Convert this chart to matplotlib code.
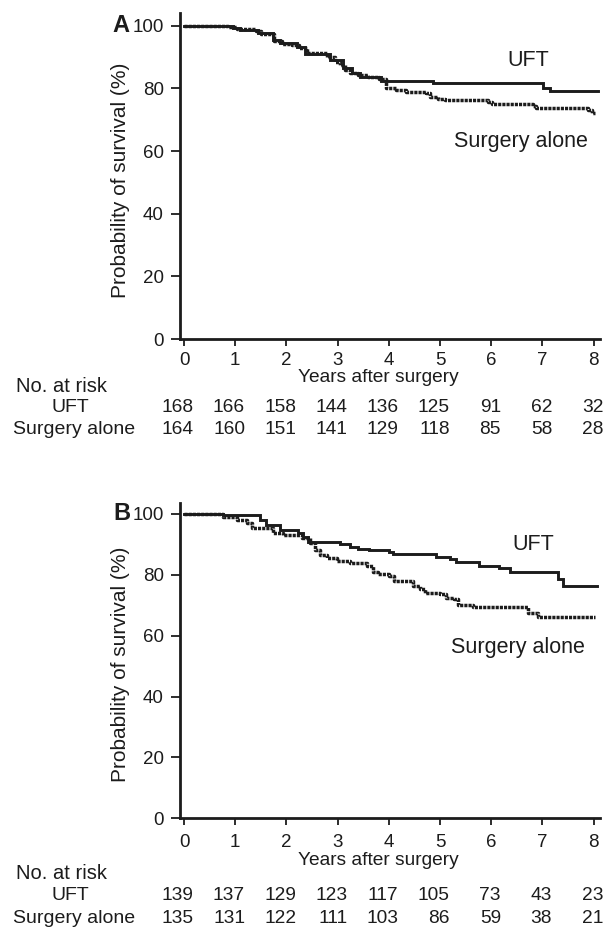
import matplotlib
matplotlib.use('Agg')
import matplotlib.pyplot as plt
import matplotlib.transforms as mtransforms

plt.rcParams['font.family'] = ['Liberation Sans', 'DejaVu Sans']

# ---------------- data ----------------
years = [0, 1, 2, 3, 4, 5, 6, 7, 8]
yticks = [0, 20, 40, 60, 80, 100]
groups = ["UFT", "Surgery alone"]

# Panel A (Kaplan-Meier step curves, % survival)
a_uft_t = [0, 0.95, 1.10, 1.45, 1.74, 1.88, 2.20, 2.36, 2.85, 3.10, 3.28, 3.44,
           3.85, 4.86, 7.02, 7.14, 8.09]
a_uft_s = [100, 99.2, 98.6, 97.6, 95.4, 94.4, 93.3, 90.9, 89.0, 86.4, 84.8, 83.7,
           82.3, 81.8, 80.0, 79.1, 79.1]
a_sur_t = [0, 0.85, 1.03, 1.40, 1.50, 1.76, 1.92, 2.10, 2.25, 2.40, 2.80, 2.95,
           3.05, 3.15, 3.25, 3.40, 3.60, 3.80, 3.95, 4.14, 4.34, 4.72, 4.80, 4.96,
           5.10, 5.93, 6.02, 6.82, 6.88, 7.90, 7.97, 8.02]
a_sur_s = [100, 99.5, 98.9, 98.2, 97.3, 95.0, 94.2, 93.8, 92.8, 91.2, 90.0, 88.5,
           87.5, 86.0, 85.0, 84.2, 83.5, 83.0, 80.0, 79.5, 78.9, 78.4, 77.3, 76.7,
           76.2, 75.6, 74.9, 74.4, 73.8, 73.0, 72.0, 72.0]

# Panel B
b_uft_t = [0, 0.76, 1.48, 1.60, 1.875, 2.23, 2.33, 2.42, 3.05, 3.24, 3.40, 3.62,
           4.01, 4.08, 4.92, 5.19, 5.32, 5.77, 6.15, 6.36, 7.31, 7.40, 8.06]
b_uft_s = [100, 99.7, 98.0, 96.4, 94.7, 93.7, 92.5, 90.9, 90.1, 89.3, 88.6, 88.0,
           87.4, 86.9, 85.8, 85.2, 84.3, 83.0, 82.1, 81.0, 78.6, 76.3, 76.3]
b_sur_t = [0, 0.76, 1.03, 1.22, 1.32, 1.74, 1.93, 2.30, 2.46, 2.56, 2.66, 2.79,
           2.98, 3.24, 3.57, 3.69, 3.78, 4.01, 4.11, 4.47, 4.60, 4.70, 4.99, 5.12,
           5.28, 5.35, 5.64, 6.72, 6.91, 8.02]
b_sur_s = [100, 99.1, 98.0, 96.9, 95.3, 93.7, 93.1, 92.0, 90.5, 88.2, 86.5, 85.4,
           84.7, 83.8, 83.0, 81.0, 80.2, 79.7, 78.0, 76.3, 75.2, 74.1, 73.6, 72.4,
           71.9, 70.2, 69.3, 67.4, 66.0, 66.0]

risk_a_uft = [168, 166, 158, 144, 136, 125, 91, 62, 32]
risk_a_sur = [164, 160, 151, 141, 129, 118, 85, 58, 28]
risk_b_uft = [139, 137, 129, 123, 117, 105, 73, 43, 23]
risk_b_sur = [135, 131, 122, 111, 103, 86, 59, 38, 21]

# ---------------- layout ----------------
W, H = 606, 927
fig = plt.figure(figsize=(W / 100, H / 100), dpi=100)


def fx(px):
    return px / W


def fy(py):
    return 1 - py / H


INK = '#1c1c1c'


def panel(top_px, bot_px, ytop, uft, sur, risk_uft, risk_sur,
          uft_lab, sur_lab, tick_y, years_y, nar_y, row1_y, row2_y):
    ax = fig.add_axes([fx(180), fy(bot_px), fx(600) - fx(180), (bot_px - top_px) / H])
    ax.set_xlim(-0.08, 8.125)
    ax.set_ylim(0, ytop)
    for s in ('top', 'right'):
        ax.spines[s].set_visible(False)
    for s in ('left', 'bottom'):
        ax.spines[s].set_linewidth(2.0)
        ax.spines[s].set_color(INK)
    ax.set_xticks(years)
    ax.set_yticks(yticks)
    ax.set_xticklabels([])
    ax.tick_params(axis='y', direction='out', length=6.7, width=1.3, pad=5,
                   labelsize=13.5, colors=INK)
    ax.tick_params(axis='x', direction='out', length=5, width=1.3, colors=INK)

    ax.step(uft[0], uft[1], where='post', color=INK, lw=2.1, solid_joinstyle='miter')
    ax.step(sur[0], sur[1], where='post', color=INK, lw=2.5,
            linestyle=(0, (0.9, 0.3)))

    trans = mtransforms.blended_transform_factory(ax.transData, fig.transFigure)
    for x in years:
        ax.text(x, fy(tick_y), str(x), transform=trans, ha='center', va='center',
                fontsize=13.5, color=INK)
    for x, n1, n2 in zip(years, risk_uft, risk_sur):
        ax.text(x + 0.19, fy(row1_y), str(n1), transform=trans, ha='right',
                va='center', fontsize=13.8, color=INK)
        ax.text(x + 0.19, fy(row2_y), str(n2), transform=trans, ha='right',
                va='center', fontsize=13.8, color=INK)

    fig.text(fx(378.5), fy(years_y), "Years after surgery", ha='center', va='center',
             fontsize=13.8, color=INK)
    fig.text(fx(62), fy(nar_y), "No. at risk", ha='center', va='center',
             fontsize=14.5, color=INK)
    fig.text(fx(70), fy(row1_y), groups[0], ha='center', va='center',
             fontsize=14, color=INK)
    fig.text(fx(74), fy(row2_y), groups[1], ha='center', va='center',
             fontsize=14, color=INK)

    fig.text(fx(uft_lab[0]), fy(uft_lab[1]), groups[0], ha='center', va='center',
             fontsize=15.5, color=INK)
    fig.text(fx(sur_lab[0]), fy(sur_lab[1]), groups[1], ha='center', va='center',
             fontsize=15.5, color=INK)

    fig.text(fx(121), fy((top_px + bot_px) / 2 + 4), "Probability of survival (%)",
             rotation=90, ha='center', va='center', fontsize=15, color=INK)
    return ax


axA = panel(13.3, 339.0, 103.96, (a_uft_t, a_uft_s), (a_sur_t, a_sur_s),
            risk_a_uft, risk_a_sur, (528, 60), (521, 142),
            360.5, 378.0, 387.0, 408.0, 430.0)
fig.text(fx(121), fy(25), "A", ha='center', va='center', fontsize=17,
         fontweight='bold', color=INK)

axB = panel(503.3, 818.3, 103.5, (b_uft_t, b_uft_s), (b_sur_t, b_sur_s),
            risk_b_uft, risk_b_sur, (533, 545), (518, 648),
            842.5, 860.5, 873.3, 896.0, 918.3)
fig.text(fx(121.5), fy(514), "B", ha='center', va='center', fontsize=17,
         fontweight='bold', color=INK)

fig.savefig('out.png', dpi=100)
